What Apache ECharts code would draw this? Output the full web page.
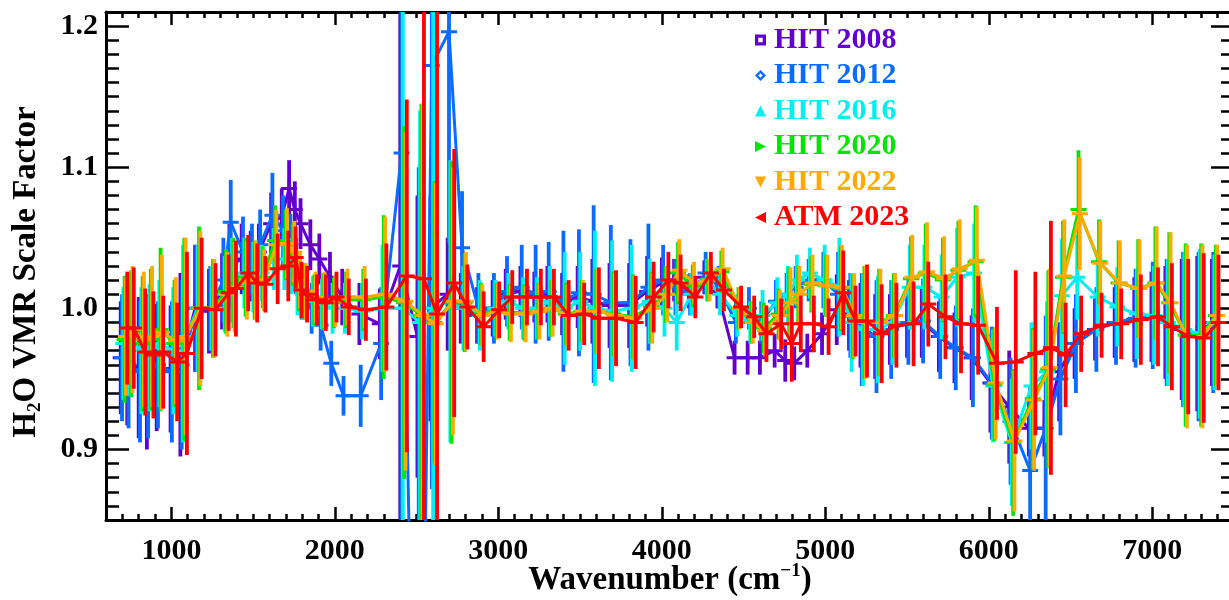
<!DOCTYPE html>
<html>
<head>
<meta charset="utf-8">
<script src="https://cdn.jsdelivr.net/npm/echarts@6/dist/echarts.min.js"></script>
<style>
  html, body { margin: 0; padding: 0; background: #ffffff; }
  #chart { width: 1229px; height: 600px; }
</style>
</head>
<body>
<div id="chart"></div>
<script>
// Spectral window centres (cm^-1) shared by every retrieval
const windows = [710,750,820,870,930, 1015,1075,1165,1250,1330, 1375,1450,1505,1555,1630,
  1695,1740,1775,1810,1870, 1925,1990,2065,2170,2295, 2420,2525,2605,2710,2790,
  2890,2985,3065,3155,3240, 3320,3410,3505,3595,3700, 3820,3930,4020,4095,4185,
  4280,4360,4465,4545,4620, 4710,4775,4830,4910,5000, 5090,5165,5235,5325,5415,
  5520,5610,5715,5810,5915, 6030,6145,6265,6360,6450, 6545,6670,6790,6910,7015,
  7100,7200,7295,7385];

// H2O VMR scale factor retrieved with each spectroscopy
const hit2008 = [0.965,0.962,0.958,0.955,0.958, 0.957,0.960,1.000,0.998,1.012, 1.030,1.035,1.030,1.040,1.060,
  1.065,1.085,1.070,1.060,1.045, 1.035,1.022,1.008,0.996,0.989, 1.030,0.980,1.000,1.010,1.000,
  0.995,1.000,1.010,1.012,1.008, 1.010,1.003,1.008,1.005,1.002, 1.002,1.012,1.018,1.020,1.012,
  1.022,1.012,0.965,0.965,0.965, 0.970,0.963,0.961,0.970,0.982, 0.999,0.995,0.988,0.980,0.985,
  0.990,0.990,0.980,0.972,0.965, 0.947,0.930,0.915,0.915,0.955, 0.975,0.985,0.990,0.992,0.994,
  0.990,0.985,0.982,0.990];
const hit2012 = [0.965,0.960,0.955,0.958,0.960, 0.955,0.960,1.000,1.000,1.020, 1.061,1.040,1.035,1.045,1.066,
  1.055,1.045,1.030,1.012,1.000, 0.988,0.961,0.938,0.938,0.975, 1.110,0.500,1.172,1.196,1.043,
  1.000,1.000,1.012,1.015,1.010, 1.012,1.005,1.011,1.010,1.004, 1.004,1.015,1.020,1.015,1.010,
  1.025,1.015,0.990,1.000,0.990, 1.005,1.010,1.015,1.020,1.020, 1.010,0.995,0.985,0.980,0.985,
  0.990,0.991,0.980,0.972,0.965, 0.947,0.920,0.885,0.915,0.950, 0.975,0.985,0.990,0.993,0.995,
  0.990,0.985,0.980,0.990];
const hit2016 = [0.975,0.978,0.970,0.972,0.975, 0.970,0.975,1.000,1.000,1.010, 1.020,1.025,1.022,1.025,1.035,
  1.035,1.030,1.015,1.010,1.005, 1.003,1.000,1.000,0.998,1.000, 1.000,0.990,1.000,1.005,1.000,
  0.995,1.000,1.005,1.000,1.000, 1.005,1.000,1.005,1.000,0.998, 1.000,1.005,1.000,0.990,1.010,
  1.020,1.010,0.995,0.990,0.995, 1.004,1.010,1.020,1.025,1.020, 1.015,0.990,0.985,0.985,0.990,
  1.015,1.015,1.008,1.022,1.025, 0.945,0.905,0.945,0.955,1.009, 1.022,1.008,1.001,0.996,0.995,
  0.990,0.985,0.982,0.990];
const hit2020 = [0.978,0.982,0.975,0.978,0.985, 0.975,0.978,1.000,1.000,1.012, 1.018,1.022,1.020,1.022,1.048,
  1.045,1.038,1.018,1.012,1.006, 1.005,1.004,1.006,1.006,1.008, 1.004,0.995,0.990,1.004,1.004,
  0.996,0.998,0.997,0.997,0.998, 1.000,0.996,0.998,0.998,0.996, 0.994,1.001,1.010,1.025,1.016,
  1.020,1.026,1.000,0.990,0.986, 0.996,1.004,1.010,1.017,1.016, 1.014,0.994,0.990,0.990,0.995,
  1.021,1.025,1.020,1.027,1.033, 0.946,0.905,0.936,0.957,1.022, 1.070,1.033,1.018,1.014,1.018,
  1.004,0.981,0.981,0.995];
const hit2022 = [0.980,0.985,0.978,0.980,0.983, 0.977,0.980,1.000,1.000,1.010, 1.015,1.020,1.020,1.020,1.045,
  1.046,1.040,1.020,1.012,1.008, 1.006,1.005,1.008,1.008,1.010, 1.005,0.995,0.989,1.005,1.005,
  0.995,0.998,0.996,0.996,0.998, 1.000,0.995,0.998,0.998,0.995, 0.993,1.000,1.010,1.027,1.018,
  1.020,1.028,1.000,0.990,0.984, 0.995,1.004,1.010,1.018,1.016, 1.015,0.995,0.990,0.990,0.995,
  1.022,1.026,1.021,1.028,1.034, 0.947,0.906,0.935,0.958,1.023, 1.067,1.032,1.018,1.014,1.018,
  1.004,0.980,0.980,0.995];
const atm2023 = [0.986,0.986,0.969,0.967,0.969, 0.962,0.968,1.000,0.999,1.011, 1.014,1.025,1.018,1.017,1.028,
  1.030,1.036,1.013,1.010,1.006, 1.004,1.008,1.001,0.999,1.001, 1.023,1.021,0.996,1.018,1.001,
  0.987,0.999,1.008,1.008,1.008, 1.008,0.995,0.996,0.993,0.993, 0.990,1.008,1.020,1.018,1.008,
  1.025,1.013,1.001,0.994,0.982, 0.989,0.975,0.989,0.989,0.987, 1.011,0.991,0.991,0.982,0.988,
  0.989,1.003,0.994,0.989,0.988, 0.961,0.962,0.968,0.972,0.967, 0.982,0.988,0.989,0.992,0.994,
  0.987,0.980,0.979,0.990];

// 1-sigma uncertainties, in units of 0.001
const err2008 = [40,45,50,55,45, 45,65,45,30,27, 30,25,25,20,22, 20,20,20,18,18, 18,18,20,22,25,
  400,100,80,40,25, 20,20,18,18,18, 20,22,22,30,30, 30,25,18,15,12, 12,12,12,12,12,
  12,15,12,12,15, 25,25,30,30,25, 25,25,25,25,30, 35,40,20,20,35, 25,22,25,30,32, 40,50,55,45];
const err2012 = [45,45,50,50,45, 50,60,45,30,30, 30,25,25,25,30, 25,22,20,20,18, 18,16,14,22,40,
  400,600,300,150,40, 25,25,25,30,35, 35,50,45,63,55, 45,45,25,20,15, 15,15,15,15,15,
  15,15,15,15,20, 30,30,40,40,35, 30,30,30,30,35, 40,45,60,80,40, 35,30,30,35,38, 45,55,60,50];
const err2016 = [40,40,45,45,45, 45,70,45,30,27, 30,25,25,20,22, 22,20,20,18,18, 18,18,18,20,45,
  400,150,500,100,30, 25,20,20,22,22, 25,40,35,55,50, 45,30,20,20,15, 15,15,15,15,18,
  18,20,18,18,25, 35,35,40,38,30, 30,30,30,35,35, 40,45,45,50,40, 30,28,28,32,35, 45,55,60,48];
const err2020 = [45,45,48,50,58, 45,72,58,35,30, 32,28,28,22,25, 25,22,20,20,18, 20,18,20,22,58,
  125,150,100,100,35, 22,20,20,20,20, 20,22,22,30,30, 30,25,20,22,15, 15,15,15,15,18,
  18,25,20,20,22, 30,30,40,38,30, 30,35,30,35,40, 40,52,50,70,40, 42,30,30,35,40, 50,65,65,50];
const err2022 = [42,45,48,50,55, 45,70,55,35,30, 32,28,28,22,25, 25,22,20,20,18, 20,18,20,22,55,
  120,150,100,95,35, 22,20,20,20,20, 20,22,22,30,30, 30,25,20,22,15, 15,15,15,15,18,
  18,25,20,20,22, 30,30,40,38,30, 30,35,30,35,38, 40,50,50,70,40, 40,30,30,35,40, 50,65,65,50];
const errAtm = [40,43,45,45,40, 42,72,50,33,27, 34,27,28,20,25, 25,22,20,20,18, 20,18,20,22,45,
  125,600,600,95,30, 25,20,19,20,20, 20,25,22,36,34, 33,25,20,20,15, 15,15,15,15,20,
  18,27,20,20,20, 30,25,40,35,30, 30,30,30,35,35, 40,65,58,90,37, 27,23,25,32,35, 45,55,60,48];

const seriesNames = ['HIT 2008', 'HIT 2012', 'HIT 2016', 'HIT 2020', 'HIT 2022', 'ATM 2023'];
const xTickLabels = [1000, 2000, 3000, 4000, 5000, 6000, 7000];
const yTickLabels = [0.9, 1.0, 1.1, 1.2];

// ---- drawing setup ----
const X_MIN = 600, X_MAX = 7500, Y_MIN = 0.85, Y_MAX = 1.21;
const FONT = 'Liberation Serif';
const COLORS = ['#6400cc', '#0a6cff', '#00f0f0', '#00e600', '#ffaa00', '#ff0000'];
const X_SHIFT = [-20, -12, -4, 4, 12, 20];   // small stagger so the error bars sit side by side
const PLUS = 'path://M0,6.5H16V9.5H0Z M6.5,0H9.5V16H6.5Z';
const ICONS = [
  'path://M0,0H10V10H0Z M3,3V7H7V3Z',
  'path://M5,0L10,5L5,10L0,5Z M5,3L3,5L5,7L7,5Z',
  'triangle',
  'path://M0,0L10,5L0,10Z',
  'path://M0,0H10L5,10Z',
  'path://M10,0L10,10L0,5Z'
];
const VALUES = [hit2008, hit2012, hit2016, hit2020, hit2022, atm2023];
const ERRORS = [err2008, err2012, err2016, err2020, err2022, errAtm];

const tickStyle = { color: '#000', width: 2.5 };
const lineStyle = { color: '#000', width: 3 };
const labelFont = { fontFamily: FONT, fontWeight: 'bold', fontSize: 30, color: '#000' };
const titleRich = (size) => ({ fontFamily: FONT, fontWeight: 'bold', fontSize: size, color: '#000' });

function minorX(position) {
  return {
    type: 'value', position, min: X_MIN, max: X_MAX, interval: 100,
    axisLine: { show: true, onZero: false, lineStyle },
    axisTick: { show: true, inside: true, length: 6, lineStyle: tickStyle },
    axisLabel: { show: false }, splitLine: { show: false }
  };
}
function majorX(position, withLabels) {
  const ax = {
    type: 'value', position, min: X_MIN, max: X_MAX,
    axisLine: { show: false },
    axisTick: { show: true, inside: true, length: 13, customValues: xTickLabels, lineStyle: tickStyle },
    axisLabel: withLabels
      ? Object.assign({ show: true, customValues: xTickLabels, margin: 16, formatter: v => String(v) }, labelFont)
      : { show: false },
    splitLine: { show: false }
  };
  if (withLabels) {
    ax.name = '{a|Wavenumber (cm}{p|\u22121}{a|)}';
    ax.nameLocation = 'middle';
    ax.nameGap = 42;
    ax.nameMoveOverlap = false;
    ax.nameTextStyle = {
      rich: {
        a: Object.assign({ lineHeight: 36 }, titleRich(33)),
        p: Object.assign({ verticalAlign: 'top', lineHeight: 36 }, titleRich(19))
      }
    };
  }
  return ax;
}
function minorY(position) {
  return {
    type: 'value', position, min: Y_MIN, max: Y_MAX, interval: 0.01,
    axisLine: { show: true, onZero: false, lineStyle },
    axisTick: { show: true, inside: true, length: 13, lineStyle: tickStyle },
    axisLabel: { show: false }, splitLine: { show: false }
  };
}
function majorY(position, withLabels) {
  const ax = {
    type: 'value', position, min: Y_MIN, max: Y_MAX,
    axisLine: { show: false },
    axisTick: { show: true, inside: true, length: 23, customValues: yTickLabels, lineStyle: tickStyle },
    axisLabel: withLabels
      ? Object.assign({ show: true, customValues: yTickLabels, margin: 8, formatter: v => v.toFixed(1) }, labelFont)
      : { show: false },
    splitLine: { show: false }
  };
  if (withLabels) {
    ax.name = '{a|H}{s|2}{a|O VMR Scale Factor}';
    ax.nameLocation = 'middle';
    ax.nameRotate = 90;
    ax.nameGap = 61;
    ax.nameTextStyle = {
      padding: [0, 12, 0, 0],
      rich: {
        a: Object.assign({ lineHeight: 38 }, titleRich(33)),
        s: Object.assign({ verticalAlign: 'bottom', lineHeight: 20 }, titleRich(19))
      }
    };
  }
  return ax;
}

function errorBarRenderer(color) {
  return function (params, api) {
    const x = api.value(0);
    const lo = Math.max(api.value(1), Y_MIN);
    const hi = Math.min(api.value(2), Y_MAX);
    if (hi <= Y_MIN || lo >= Y_MAX) return null;
    const p1 = api.coord([x, lo]);
    const p2 = api.coord([x, hi]);
    return {
      type: 'line',
      shape: { x1: p1[0], y1: p1[1], x2: p2[0], y2: p2[1] },
      style: { stroke: color, lineWidth: 3.8 }
    };
  };
}

const series = [];
seriesNames.forEach((name, i) => {
  const vals = VALUES[i], errs = ERRORS[i], color = COLORS[i];
  const xs = windows.map(w => w + X_SHIFT[i]);
  // each retrieval sits on its own layer, later ones on top
  series.push({
    type: 'custom', name: name + ' uncertainty',
    xAxisIndex: 0, yAxisIndex: 0, z: 10 + i * 2,
    data: xs.map((x, k) => [x, vals[k] - errs[k] / 1000, vals[k] + errs[k] / 1000]),
    encode: { x: 0, y: [1, 2] },
    renderItem: errorBarRenderer(color),
    silent: true, animation: false
  });
  series.push({
    type: 'line', name,
    xAxisIndex: 0, yAxisIndex: 0, z: 11 + i * 2,
    data: xs.map((x, k) => [x, vals[k]]),
    symbol: PLUS, symbolSize: 16, showSymbol: true,
    lineStyle: { color, width: 3 },
    itemStyle: { color },
    clip: true, silent: true, animation: false
  });
});

const chart = echarts.init(document.getElementById('chart'), null, { renderer: 'canvas' });
chart.setOption({
  backgroundColor: '#ffffff',
  animation: false,
  grid: { left: 106, right: -5, top: 12, bottom: 80, containLabel: false, outerBoundsMode: 'none' },
  xAxis: [minorX('bottom'), majorX('bottom', true), minorX('top'), majorX('top', false)],
  yAxis: [minorY('left'), majorY('left', true), minorY('right'), majorY('right', false)],
  legend: {
    orient: 'vertical', left: 755, top: 25, padding: 0, z: 50,
    itemWidth: 11, itemHeight: 11, itemGap: 5.5,
    selectedMode: false,
    data: seriesNames.map((name, i) => ({
      name, icon: ICONS[i],
      itemStyle: { color: COLORS[i], borderWidth: 0 },
      textStyle: { color: COLORS[i] }
    })),
    textStyle: { fontFamily: FONT, fontWeight: 'bold', fontSize: 30, lineHeight: 30, padding: [0, 0, 0, 3] }
  },
  series
});
</script>
</body>
</html>
